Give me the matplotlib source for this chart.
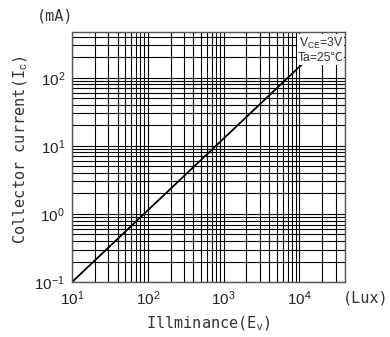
import matplotlib
matplotlib.use("Agg")
import matplotlib.pyplot as plt
from matplotlib.ticker import LogLocator, NullFormatter

# Illuminance (lux) vs collector current (mA)
illuminance = [10, 11000]
collector_current = [0.1, 160]

x_limits = (10, 40000)
y_limits = (0.1, 470)
x_ticks = [10, 100, 1000, 10000]
x_tick_labels = ["$10^{1}$", "$10^{2}$", "$10^{3}$", "$10^{4}$"]
y_ticks = [0.1, 1, 10, 100]
y_tick_labels = ["$10^{-1}$", "$10^{0}$", "$10^{1}$", "$10^{2}$"]

plt.rcParams["mathtext.fontset"] = "custom"
plt.rcParams["mathtext.rm"] = "Liberation Sans"
plt.rcParams["mathtext.it"] = "Liberation Sans"

fig = plt.figure(figsize=(3.9, 3.37), dpi=100)
ax = fig.add_axes([0.1846, 0.163, 0.70, 0.742])

ax.set_xscale("log")
ax.set_yscale("log")
ax.set_xlim(*x_limits)
ax.set_ylim(*y_limits)

ax.xaxis.set_minor_locator(LogLocator(base=10, subs=range(2, 10), numticks=20))
ax.yaxis.set_minor_locator(LogLocator(base=10, subs=range(2, 10), numticks=20))
ax.xaxis.set_minor_formatter(NullFormatter())
ax.yaxis.set_minor_formatter(NullFormatter())
ax.set_xticks(x_ticks)
ax.set_xticklabels(x_tick_labels, fontsize=11)
ax.set_yticks(y_ticks)
ax.set_yticklabels(y_tick_labels, fontsize=11)
ax.tick_params(which="both", length=0, pad=5, colors="#222222")

ax.grid(which="both", color="black", linewidth=0.8)
ax.set_axisbelow(True)
for sp in ax.spines.values():
    sp.set_color("#555555")
    sp.set_linewidth(1.0)

ax.plot(illuminance, collector_current, color="black", linewidth=1.3, solid_capstyle="butt")

ax.text(0.995, 0.985, "V$_{\\rm CE}$=3V\nTa=25\u2103", transform=ax.transAxes,
        ha="right", va="top", fontsize=8.8, family=["Liberation Sans", "Noto Sans CJK KR"],
        color="#333333", linespacing=1.1,
        bbox=dict(facecolor="white", edgecolor="none", pad=0.6))

mono = "DejaVu Sans Mono"
fig.text(55 / 390, 1 - 16 / 337, "(mA)", ha="center", va="center",
         fontsize=11, family=mono, color="#333333")
fig.text(366 / 390, 1 - 298 / 337, "(Lux)", ha="center", va="center",
         fontsize=11, family=mono, color="#333333")
fig.text(208 / 390, 1 - 323 / 337, "Illminance(E$_{\\rm v}$)", ha="center", va="center",
         fontsize=11, family=mono, color="#333333")
fig.text(20 / 390, 1 - 150 / 337, "Collector current(I$_{\\rm c}$)", ha="center", va="center",
         rotation=90, fontsize=11, family=mono, color="#333333")

fig.savefig("out.png", dpi=100)
